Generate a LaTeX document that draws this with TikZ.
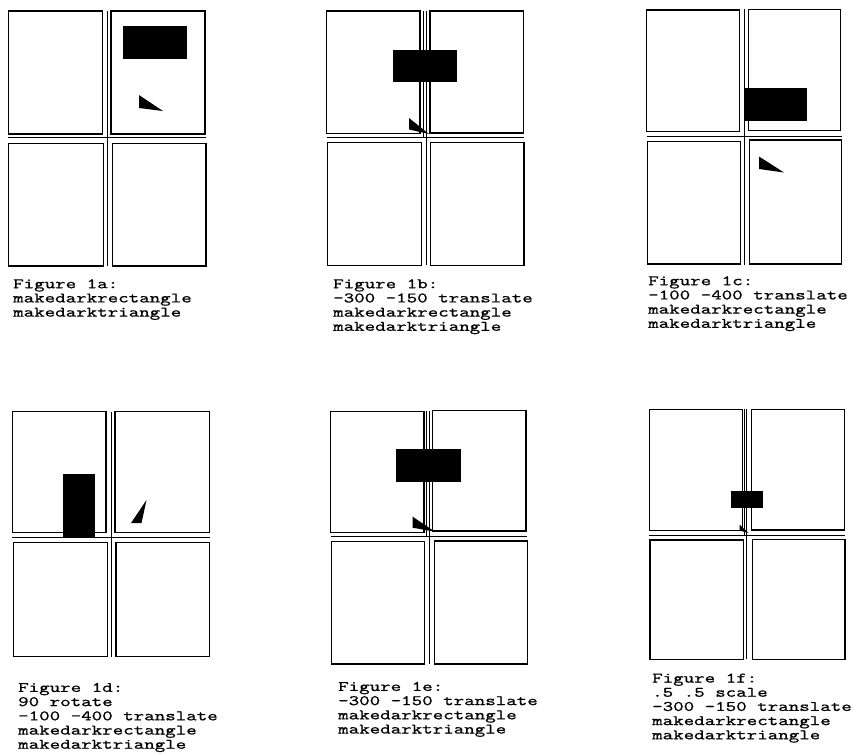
\documentclass[tikz,border=0pt]{standalone}
\usepackage{fontspec}
\newfontfamily\capfont[FakeStretch=1.38,FakeBold=0.7]{lmmono10-regular.otf}
\tikzset{
  pane/.style={draw,line width=1.4pt},
  axisline/.style={line width=1pt},
  dark/.style={fill=black},
  caption/.style={anchor=north west,align=left,inner sep=0pt,
    font=\capfont\fontsize{14.5}{14.2}\selectfont}
}
\begin{document}
\begin{tikzpicture}[x=1pt,y=-1pt,line join=miter]
  \useasboundingbox[fill=white] (0,0) rectangle (853,755);
  % The four quarter pages of every figure, row by row.
  \foreach \xa/\ya/\xb/\yb in {8.3/11/102.7/134, 111/11/205/134,
      8.3/143.3/103.3/266, 112.3/143.3/206/266,
      326.7/11/420/133.3, 430/11/523.3/133, 327.3/142.7/421.7/265.3, 430.7/142.7/524/265.3,
      646.7/10/739.3/131.7, 748.3/9.3/840.7/130.7, 647.3/141.7/740.7/264, 749.3/140/841.7/264,
      12.3/411.7/106/532.3, 115/411.7/209.3/532.3, 13.3/542.7/107.3/656.7, 116/542.7/209.7/656.7,
      330.7/411.7/424/532.3, 432.7/410.7/526/531, 331.7/541.7/424.3/664, 434.3/541/527.3/664,
      649.3/409.3/742.7/530.7, 751.7/409.3/844.3/530, 650/540/743.3/659.3, 752.7/539.3/845/659.3} {
    \draw[pane] (\xa,\ya) rectangle (\xb,\yb);
  }
  % Axes through the gaps: the origin sits where they cross.
  \foreach \x/\ya/\yb in {107.3/11/266, 426/11/265.3, 744/9.3/265,
      111/411.7/656.7, 429.3/410.7/664, 746.7/409.3/659.3} {
    \draw[axisline] (\x,\ya) -- (\x,\yb);
  }
  \foreach \y/\xa/\xb in {137.7/8.3/206, 137.5/326.7/524, 136/646.7/841.7,
      537.3/12.3/209.7, 536.7/330.7/527.3, 535/649.3/845} {
    \draw[axisline] (\xa,\y) -- (\xb,\y);
  }
  % second stroke in the upper gap of the translated figures
  \foreach \x/\ya/\yb in {423.3/11/137.5, 426.5/410.7/536.7, 744.5/409.3/535} {
    \draw[thin] (\x,\ya) -- (\x,\yb);
  }
  % Dark rectangles and triangles.
  \fill[dark] (123,26) rectangle (187,59);
  \fill[dark] (139,95) -- (139,108) -- (163,111) -- cycle;
  \fill[dark] (392.7,50) rectangle (456.7,82);
  \fill[dark] (409,118) -- (409,129.5) -- (429,134) -- cycle;
  \fill[dark] (744,88.3) rectangle (807.3,120.7);
  \fill[dark] (759,156.5) -- (759,169) -- (784,172.5) -- cycle;
  \fill[dark] (62.7,474) rectangle (95,537);
  \fill[dark] (146.5,500) -- (131,523) -- (141.5,523) -- cycle;
  \fill[dark] (396,449.3) rectangle (460.7,481.7);
  \fill[dark] (412.7,516.7) -- (412.7,527.7) -- (435,531.7) -- cycle;
  \fill[dark] (731,491) rectangle (762.7,507.7);
  \fill[dark] (739.5,524.5) -- (739.5,530.5) -- (748.5,533) -- cycle;
  % Captions.
  \node[caption] (cap1a) at (13,279) {Figure 1a:\\makedarkrectangle\\makedarktriangle};
  \node[caption] (cap1b) at (333,279) {Figure 1b:\\-300 -150 translate\\makedarkrectangle\\makedarktriangle};
  \node[caption] (cap1c) at (648,276) {Figure 1c:\\-100 -400 translate\\makedarkrectangle\\makedarktriangle};
  \node[caption] (cap1d) at (18,682.7) {Figure 1d:\\90 rotate\\-100 -400 translate\\makedarkrectangle\\makedarktriangle};
  \node[caption] (cap1e) at (338,681.7) {Figure 1e:\\-300 -150 translate\\makedarkrectangle\\makedarktriangle};
  \node[caption] (cap1f) at (652,673.3) {Figure 1f:\\.5 .5 scale\\-300 -150 translate\\makedarkrectangle\\makedarktriangle};
\end{tikzpicture}
\end{document}
